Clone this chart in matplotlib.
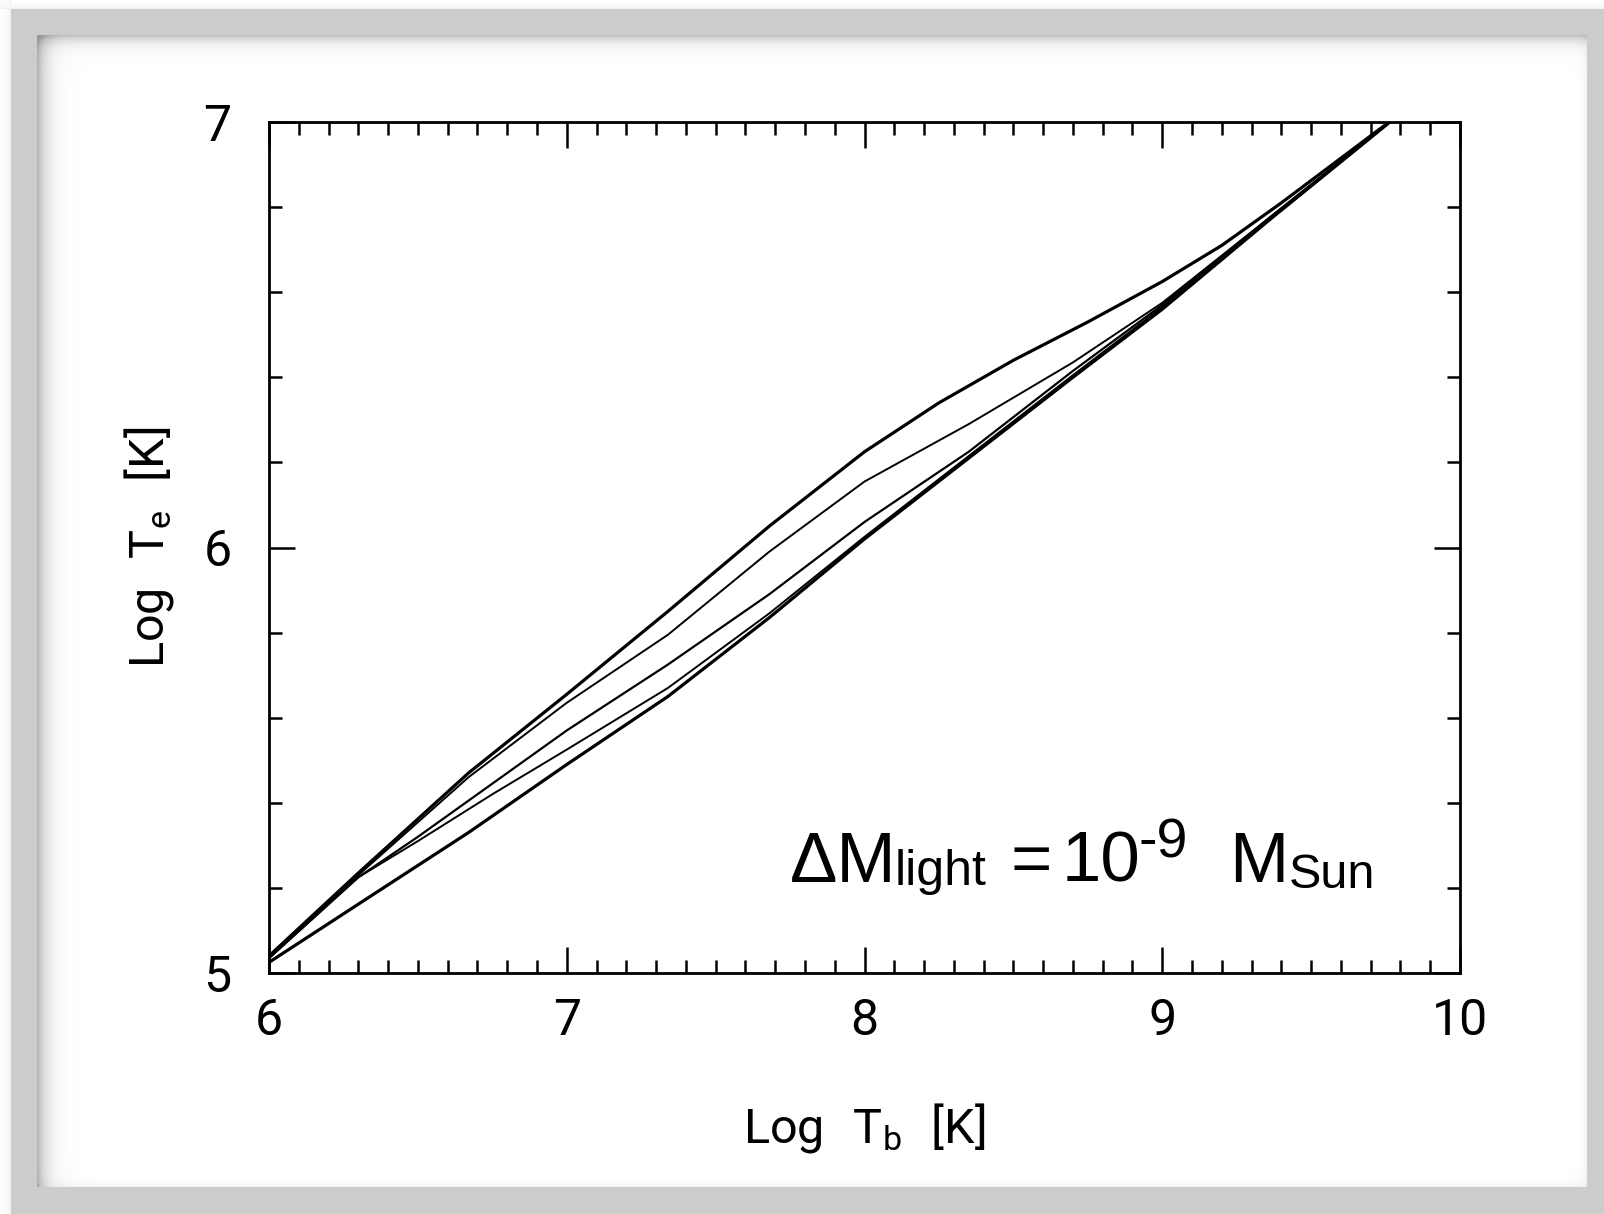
import numpy as np
import matplotlib
matplotlib.use("Agg")
from matplotlib import pyplot as plt
from matplotlib.ticker import MultipleLocator

plt.rcParams['mathtext.fontset'] = 'custom'
plt.rcParams['mathtext.rm'] = 'Roboto'
plt.rcParams['mathtext.it'] = 'Roboto'

# Log T_b vs Log T_e tracks
tb_1 = [6.0, 6.3, 6.67, 7.0, 7.34, 7.68, 8.0, 8.25, 8.5, 8.75, 9.0, 9.2, 9.4, 9.6, 9.8]
te_1 = [5.04, 5.235, 5.47, 5.655, 5.85, 6.05, 6.225, 6.34, 6.44, 6.53, 6.625, 6.71, 6.81, 6.915, 7.02]

tb_2 = [6.0, 6.3, 6.67, 7.0, 7.34, 7.68, 8.0, 8.35, 8.7, 9.0, 9.36, 9.8]
te_2 = [5.035, 5.23, 5.46, 5.635, 5.795, 5.99, 6.155, 6.29, 6.435, 6.575, 6.775, 7.02]

tb_3 = [6.0, 6.3, 6.5, 6.75, 7.0, 7.34, 7.68, 8.0, 8.35, 8.7, 9.0, 9.36, 9.8]
te_3 = [5.035, 5.225, 5.32, 5.445, 5.57, 5.725, 5.89, 6.06, 6.225, 6.415, 6.57, 6.775, 7.02]

tb_4 = [6.0, 6.3, 6.5, 6.75, 7.0, 7.34, 7.68, 8.0, 8.35, 8.7, 9.0, 9.36, 9.8]
te_4 = [5.035, 5.225, 5.31, 5.42, 5.525, 5.67, 5.845, 6.025, 6.215, 6.405, 6.565, 6.77, 7.02]

tb_5 = [6.0, 6.34, 6.67, 7.0, 7.34, 7.68, 8.0, 8.35, 8.7, 9.0, 9.36, 9.8]
te_5 = [5.025, 5.18, 5.33, 5.49, 5.65, 5.835, 6.02, 6.21, 6.4, 6.56, 6.77, 7.02]

W, H = 1604, 1214
fig = plt.figure(figsize=(W / 100, H / 100), dpi=100)

# grey frame with inset shadow
yy, xx = np.mgrid[0:H, 0:W].astype(float)
bg = np.ones((H, W))
frame = (xx >= 11) & (yy >= 9)
bg[frame] = 0.80
outside = ~frame
dout = np.minimum(np.where(xx < 11, 11 - xx, 1e3), np.where(yy < 9, 9 - yy, 1e3))
bg[outside] = 1 - 0.07 * np.exp(-dout[outside] / 4)
inner = (xx >= 37) & (xx < 1587) & (yy >= 35) & (yy < 1187)
shade = (0.24 * np.exp(-(yy - 35) / 7) + 0.3 * np.exp(-(xx - 37) / 9)
         + 0.05 * np.exp(-(1587 - xx) / 5) + 0.05 * np.exp(-(1187 - yy) / 5))
bg[inner] = 1 - np.clip(shade[inner], 0, 0.4)
bgax = fig.add_axes([0, 0, 1, 1], zorder=-1)
bgax.imshow(bg, cmap='gray', vmin=0, vmax=1, aspect='auto', interpolation='nearest')
bgax.axis('off')

ax = fig.add_axes([269 / W, 1 - 973 / H, (1460 - 269) / W, (973 - 122) / H])
ax.patch.set_alpha(0)

ax.plot(tb_1, te_1, color='black', lw=2.3)
ax.plot(tb_2, te_2, color='black', lw=1.4)
ax.plot(tb_3, te_3, color='black', lw=1.6)
ax.plot(tb_4, te_4, color='black', lw=1.4)
ax.plot(tb_5, te_5, color='black', lw=2.3)

ax.set_xlim(6, 10)
ax.set_ylim(5, 7)
ax.xaxis.set_major_locator(MultipleLocator(1))
ax.xaxis.set_minor_locator(MultipleLocator(0.1))
ax.yaxis.set_major_locator(MultipleLocator(1))
ax.yaxis.set_minor_locator(MultipleLocator(0.2))
ax.tick_params(which='both', direction='in', top=True, right=True, width=1.8, colors='black')
ax.tick_params(which='major', length=19)
ax.tick_params(which='minor', length=9.5)
ax.tick_params(axis='x', which='major', pad=17)
ax.tick_params(axis='y', which='major', pad=27)
for sp in ax.spines.values():
    sp.set_linewidth(2.0)

for lab in ax.get_xticklabels() + ax.get_yticklabels():
    lab.set_family('Roboto')
    lab.set_fontsize(36)

ax.text(0.5, -0.182, r'$\mathrm{Log\ \ T_b\ \ [K]}$', transform=ax.transAxes,
        ha='center', va='center', fontsize=35)
ax.text(-0.1008, 0.5, r'$\mathrm{Log\ \ T_e\ \ [K]}$', transform=ax.transAxes,
        ha='center', va='center', rotation=90, fontsize=35)


def px(x, y):
    # figure pixel -> data coordinates
    return 6 + (x - 269) / 297.75, 7 - (y - 122) / 425.5


# mass label, built from pieces so sub/superscripts sit like the original
label_font = dict(family='Liberation Sans', color='black', ha='left', va='baseline')
pieces = [
    ('\u0394M', 51, 790, 882),
    ('light', 36, 895, 885),
    ('=', 51, 1010, 882),
    ('10', 51, 1062, 882),
    ('-9', 40, 1138, 858),
    ('M', 51, 1229, 882),
    ('Sun', 35, 1289, 888),
]
for txt, size, x0, y0 in pieces:
    ax.text(*px(x0, y0), txt, fontsize=size, **label_font)

fig.savefig('out.png', dpi=100)
